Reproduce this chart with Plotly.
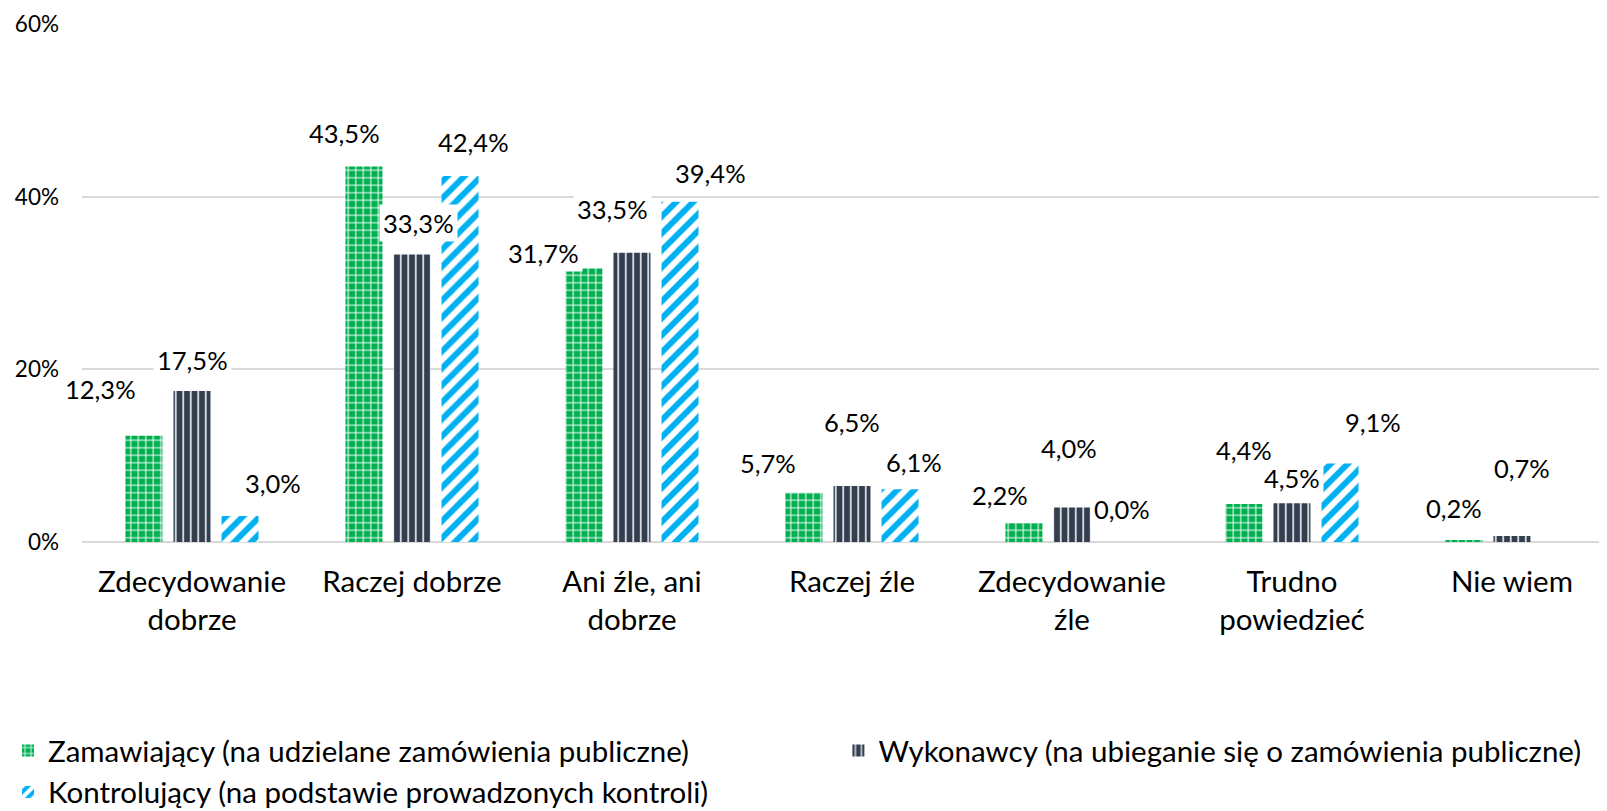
import plotly.graph_objects as go

categories = ["Zdecydowanie<br>dobrze", "Raczej dobrze", "Ani źle, ani<br>dobrze", "Raczej źle",
              "Zdecydowanie<br>źle", "Trudno<br>powiedzieć", "Nie wiem"]
series_names = ["Zamawiający (na udzielane zamówienia publiczne)",
                "Wykonawcy (na ubieganie się o zamówienia publiczne)",
                "Kontrolujący (na podstawie prowadzonych kontroli)"]
zamawiajacy = [12.3, 43.5, 31.7, 5.7, 2.2, 4.4, 0.2]
wykonawcy = [17.5, 33.3, 33.5, 6.5, 4.0, 4.5, 0.7]
kontrolujacy = [3.0, 42.4, 39.4, 6.1, 0.0, 9.1, None]
y_ticks = [0, 20, 40, 60]
y_tick_labels = ["0%", "20%", "40%", "60%"]

# label offsets (px) relative to bar top-centre, mimicking manual placement
label_dx = [[-44, -19, -40, -36, -24, 0, -10],
            [0, 7, -19, 0, -3, 0, 10],
            [33, 14, 31, 14, 2, 33, 0]]
label_dy = [[47, 33, 15, 30, 28, 54, 32],
            [31, 32, 44, 64, 59, 25, 68],
            [33, 34, 29, 27, 33, 41, 0]]

colors = ["#00B050", "#333F50", "#00B0F0"]
patterns = [dict(shape="+", fgcolor="white", bgcolor="#00B050", size=7.5, solidity=0.25, fillmode="replace"),
            dict(shape="|", fgcolor="white", bgcolor="#333F50", size=7.5, solidity=0.2, fillmode="replace"),
            dict(shape="/", fgcolor="white", bgcolor="#00B0F0", size=12, solidity=0.5, fillmode="replace")]
legend_ids = ["legend", "legend2", "legend"]

FONT = "Lato"
fig = go.Figure()
all_vals = [zamawiajacy, wykonawcy, kontrolujacy]
for name, vals, col, pat, lg in zip(series_names, all_vals, colors, patterns, legend_ids):
    fig.add_trace(go.Bar(x=categories, y=vals, name=name, legend=lg,
                         marker=dict(color=col, pattern=pat, line=dict(width=0))))

slot = 48
for si in [1, 2, 0]:
    vals = all_vals[si]
    for ci, v in enumerate(vals):
        if v is None:
            continue
        fig.add_annotation(x=categories[ci], y=v, xref="x", yref="y",
                           text=f"{v:.1f}%".replace(".", ","), showarrow=False,
                           xshift=(si - 1) * slot + label_dx[si][ci], yshift=label_dy[si][ci],
                           yanchor="middle", xanchor="center",
                           bgcolor="white", borderpad=3,
                           font=dict(family=FONT, size=25.5, color="black"))

legend_font = dict(family=FONT, size=29.5, color="black")
fig.update_layout(
    width=1599, height=803,
    margin=dict(l=74, r=0, t=16, b=269, autoexpand=False),
    paper_bgcolor="white", plot_bgcolor="white",
    barmode="group", bargap=0.345, bargroupgap=0.23,
    font=dict(family=FONT, color="black"),
    showlegend=True,
    legend=dict(orientation="v", x=-0.0485, y=-0.353, yanchor="top", xanchor="left",
                font=legend_font, traceorder="normal", itemwidth=30, tracegroupgap=0),
    legend2=dict(orientation="v", x=0.496, y=-0.353, yanchor="top", xanchor="left",
                 font=legend_font, itemwidth=30),
)
fig.update_xaxes(tickfont=dict(family=FONT, size=29.5, color="black"), showline=False,
                 ticks="", showgrid=False, tickangle=0, range=[-0.5, 6.432],
                 ticklabelstandoff=19)
fig.update_yaxes(range=[0, 60], tickvals=y_ticks, ticktext=y_tick_labels,
                 tickfont=dict(family=FONT, size=22.5, color="black"),
                 showgrid=True, gridcolor="#D9D9D9", gridwidth=1.5, zeroline=True,
                 zerolinecolor="#D9D9D9", zerolinewidth=1.5, ticks="", showline=False,
                 ticklabelstandoff=22)

fig.write_html("out.html")
